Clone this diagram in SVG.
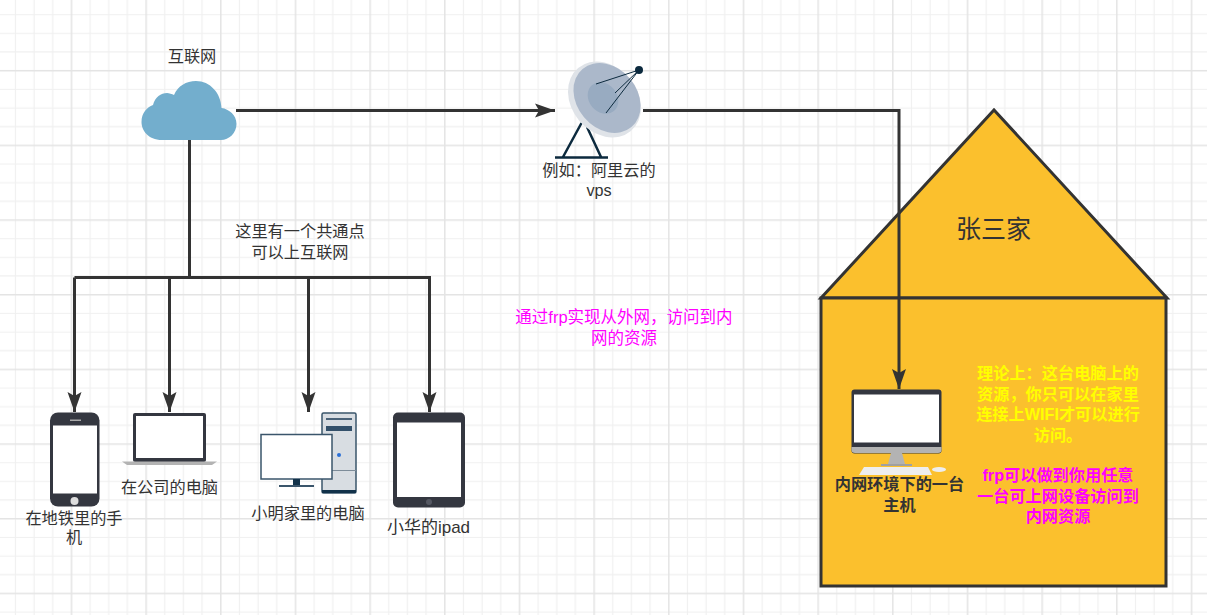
<svg xmlns="http://www.w3.org/2000/svg" width="1207" height="615" viewBox="0 0 1207 615">
<style>
text{font-family:"Liberation Sans","Noto Sans CJK SC",sans-serif;font-size:16.2px;fill:#333;text-anchor:middle}
.c{fill:none;stroke:#333;stroke-width:3}
.b{font-weight:700}
.y{fill:#ffff00}.m{fill:#ff00ff}
.h{fill:#fbc02d;stroke:#333;stroke-width:3;stroke-linejoin:miter}
.d{fill:#343740}.w{fill:#fff}
</style>
<defs>
<marker id="a" markerUnits="userSpaceOnUse" markerWidth="24" markerHeight="16" refX="20" refY="8" orient="auto"><path d="M0,1L20,8L0,15L4,8Z" fill="#333"/></marker>
<pattern id="g" width="74.67" height="74.67" patternUnits="userSpaceOnUse" x="-4" y="-4.700">
<path d="M19.4,0V74.67M38.1,0V74.67M56.7,0V74.67M0,19.4H74.67M0,38.1H74.67M0,56.7H74.67" fill="none" stroke="#f0f0f0" stroke-width="1.200"/>
<path d="M0.8,0V74.67M0,0.8H74.67" fill="none" stroke="#e4e4e4" stroke-width="1.500"/>
</pattern>
</defs>
<rect width="1207" height="615" fill="#fff"/>
<rect width="1207" height="615" fill="url(#g)"/>
<g id="house">
<path class="h" d="M821,298L994,110L1167,298Z"/>
<rect class="h" x="821" y="298" width="345" height="288"/>
<text x="993.500" y="238" style="font-size:25px">张三家</text>
</g>
<g id="connectors">
<path class="c" d="M236,110.500H555" marker-end="url(#a)"/>
<path class="c" d="M643,110.500H899V389" marker-end="url(#a)"/>
<path class="c" d="M189.500,140V277"/>
<path class="c" d="M74.500,277.500H429.500V412" marker-end="url(#a)"/>
<path class="c" d="M74.500,277.500V412" marker-end="url(#a)"/>
<path class="c" d="M169.500,277.500V412" marker-end="url(#a)"/>
<path class="c" d="M308.500,277.500V412" marker-end="url(#a)"/>
</g>
<g id="cloud">
<path d="M162,140C148,140 141.500,130 141.500,122C141.500,113 147,107 153,105C155,97 161,93 167,93C169,93 172,94 174,95C178,86 186,81 196,81C210,81 221,93 221.500,108C229,109 236.500,115 236.500,124C236.500,133 229,140 221,140Z" fill="#73aecd"/>
<text x="192" y="62">互联网</text>
</g>
<g id="vps">
<path d="M581.500,123L563,157M587,127L601,157M555,157.500H608" fill="none" stroke="#0c2a3e" stroke-width="2.500"/>
<ellipse cx="604.500" cy="99.500" rx="33" ry="41" transform="rotate(-40 604.500 99.500)" fill="#dfe3e8"/>
<ellipse cx="607" cy="98" rx="30" ry="38" transform="rotate(-40 607 98)" fill="#abb8ca"/>
<ellipse cx="603" cy="98" rx="14" ry="17" transform="rotate(-40 603 98)" fill="#98abc1"/>
<path d="M639,70L596,84M639,70L615,93M639,70L606,113" fill="none" stroke="#0c2a3e" stroke-width="1"/>
<circle cx="639" cy="70" r="4" fill="#0c2a3e"/>
<text x="599" y="175.500">例如：阿里云的</text>
<text x="599" y="196">vps</text>
</g>
<g id="phone">
<rect x="50" y="412.500" width="49.500" height="94" rx="8" class="d"/>
<rect x="53" y="425.500" width="44" height="68" class="w"/>
<rect x="70" y="419.500" width="11" height="1.500" fill="#aaa"/>
<circle cx="74.500" cy="501" r="4" fill="#ddd"/>
<text x="74" y="523.500">在地铁里的手</text>
<text x="74" y="543">机</text>
</g>
<g id="laptop">
<rect x="133" y="413" width="73" height="49" rx="2" class="d"/>
<rect x="136" y="416" width="67" height="42" class="w"/>
<path d="M122,461.500H217L212,465H127Z" fill="#b3b3b3"/>
<text x="169.500" y="492.500">在公司的电脑</text>
</g>
<g id="pc">
<rect x="322" y="413" width="34" height="80" rx="1.500" fill="#d8dde2" stroke="#3a556b" stroke-width="1.500"/>
<path d="M326,419H352" stroke="#4a6278" stroke-width="2"/>
<rect x="326" y="426" width="26" height="5" fill="#33506a"/>
<path d="M322,470.500H356" stroke="#7d8c99"/>
<path d="M322,491.500H356" stroke="#12324a" stroke-width="3"/>
<circle cx="339" cy="455" r="2" fill="#2a6fd6"/>
<rect x="261" y="434.500" width="71" height="44.500" fill="#fff" stroke="#3a556b" stroke-width="1.500"/>
<rect x="293" y="479" width="7" height="6" fill="#12324a"/>
<path d="M279,486H314" stroke="#3a556b" stroke-width="2"/>
<text x="308" y="519">小明家里的电脑</text>
</g>
<g id="ipad">
<rect x="393" y="412.500" width="72" height="95" rx="5" class="d"/>
<rect x="397" y="422.500" width="64" height="74.500" class="w"/>
<circle cx="429" cy="502" r="3" fill="#555862"/>
<text x="428.500" y="533" style="font-size:17px">小华的ipad</text>
</g>
<g id="host">
<rect x="851.500" y="389.500" width="90" height="64" rx="3" class="d"/>
<rect x="854" y="394.500" width="85" height="48" class="w"/>
<path d="M851.500,447H941.500V450Q941.500,453 938,453H855Q851.500,453 851.500,450Z" fill="#b3b3b3"/>
<path d="M891,453H902L905,464H888Z" fill="#b3b3b3"/>
<rect x="881" y="464" width="31" height="2" fill="#a0a0a0"/>
<path d="M864,467H928L932,475H859Z" fill="#eee"/>
<ellipse cx="939" cy="469.500" rx="7" ry="2.500" fill="#eee"/>
<text class="b" x="899.500" y="490">内网环境下的一台</text>
<text class="b" x="899.500" y="511">主机</text>
</g>
<g id="notes">
<text class="b y" x="1058" y="379">理论上：这台电脑上的</text>
<text class="b y" x="1058" y="400">资源，你只可以在家里</text>
<text class="b y" x="1058" y="420">连接上WIFI才可以进行</text>
<text class="b y" x="1058" y="441">访问。</text>
<text class="b m" x="1058" y="481">frp可以做到你用任意</text>
<text class="b m" x="1058" y="502">一台可上网设备访问到</text>
<text class="b m" x="1058" y="522">内网资源</text>
</g>
<g id="labels">
<text x="300" y="236.500">这里有一个共通点</text>
<text x="300" y="258">可以上互联网</text>
<text x="624" y="323" style="fill:#ff00ff;font-size:16.5px">通过frp实现从外网，访问到内</text>
<text x="624" y="344" style="fill:#ff00ff;font-size:16.5px">网的资源</text>
</g>
</svg>
